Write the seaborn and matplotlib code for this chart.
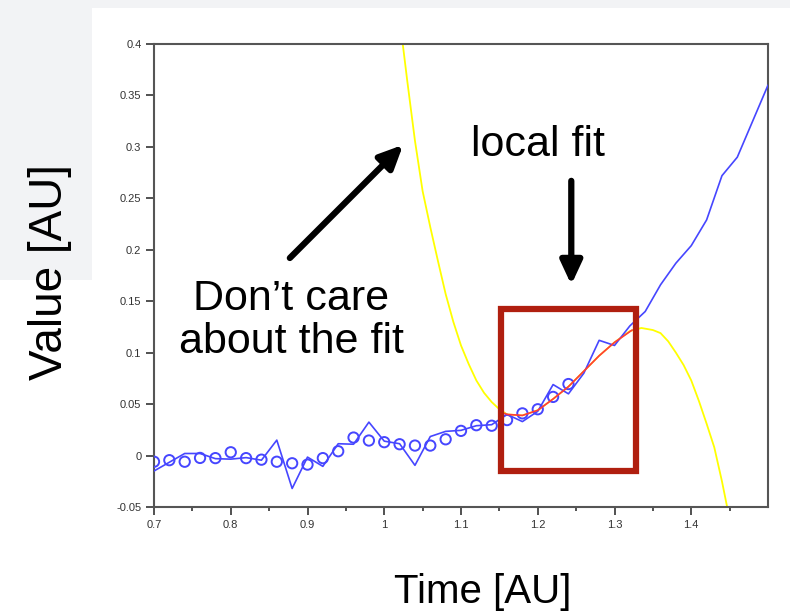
import matplotlib as mpl
mpl.use("Agg")
import matplotlib.pyplot as plt
import matplotlib.patches as mpatches
import seaborn as sns
import numpy as np
import pandas as pd

sns.set_style("white")
plt.rcParams['font.family'] = ['Liberation Sans', 'DejaVu Sans']
plt.rcParams['text.color'] = 'black'

# measured samples (circles)
sample_t = [0.70, 0.72, 0.74, 0.76, 0.78, 0.80, 0.82, 0.84, 0.86, 0.88,
            0.90, 0.92, 0.94, 0.96, 0.98, 1.00, 1.02, 1.04, 1.06, 1.08,
            1.10, 1.12, 1.14, 1.16, 1.18, 1.20, 1.22, 1.24]
sample_v = [-0.006, -0.0045, -0.006, -0.0023, -0.0025, 0.0032, -0.0025, -0.004, -0.006, -0.0075,
            -0.0088, -0.0025, 0.0042, 0.0175, 0.0146, 0.013, 0.011, 0.0097, 0.0097, 0.0158,
            0.024, 0.0295, 0.029, 0.0345, 0.041, 0.045, 0.057, 0.0695]

# noisy signal (blue line)
signal_t = [0.70, 0.72, 0.74, 0.76, 0.78, 0.80, 0.82, 0.84, 0.86, 0.88,
            0.90, 0.92, 0.94, 0.96, 0.98, 1.00, 1.02, 1.04, 1.06, 1.08,
            1.10, 1.12, 1.14, 1.16, 1.18, 1.20, 1.22, 1.24, 1.26, 1.28,
            1.30, 1.32, 1.34, 1.36, 1.38, 1.40, 1.42, 1.44, 1.46, 1.48, 1.50]
signal_v = [-0.015, -0.0065, 0.002, 0.002, -0.003, -0.0035, -0.002, -0.0045, 0.015, -0.032,
            -0.0015, -0.0105, 0.0115, 0.011, 0.0325, 0.014, 0.0115, -0.0095, 0.0185, 0.0235,
            0.0245, 0.029, 0.030, 0.040, 0.033, 0.043, 0.069, 0.060, 0.080, 0.112,
            0.107, 0.126, 0.140, 0.166, 0.187, 0.204, 0.229, 0.272, 0.290, 0.325, 0.360]

# local polynomial fit (red, inside window)
fit_t = [1.157, 1.16, 1.18, 1.20, 1.22, 1.24, 1.26, 1.28, 1.30, 1.323]
fit_v = [0.041, 0.040, 0.039, 0.044, 0.055, 0.067, 0.082, 0.097, 0.110, 0.122]

# same fit outside the window (yellow)
ext_t = [1.02, 1.03, 1.04, 1.05, 1.06, 1.07, 1.08, 1.09, 1.10, 1.11,
         1.12, 1.13, 1.14, 1.15, 1.16, 1.18, 1.20, 1.22, 1.24, 1.26,
         1.28, 1.30, 1.32, 1.335, 1.35, 1.36, 1.37, 1.38, 1.39, 1.40,
         1.41, 1.42, 1.43, 1.44, 1.45]
ext_v = [0.425, 0.364, 0.306, 0.257, 0.222, 0.189, 0.157, 0.130, 0.107, 0.089,
         0.073, 0.061, 0.052, 0.045, 0.040, 0.039, 0.044, 0.055, 0.067, 0.082,
         0.097, 0.110, 0.121, 0.124, 0.122, 0.119, 0.111, 0.100, 0.088, 0.073,
         0.053, 0.031, 0.008, -0.025, -0.062]

xticks = [0.7, 0.8, 0.9, 1.0, 1.1, 1.2, 1.3, 1.4]
xtick_labels = ['0.7', '0.8', '0.9', '1', '1.1', '1.2', '1.3', '1.4']
yticks = [-0.05, 0, 0.05, 0.1, 0.15, 0.2, 0.25, 0.3, 0.35, 0.4]
ytick_labels = ['-0.05', '0', '0.05', '0.1', '0.15', '0.2', '0.25', '0.3', '0.35', '0.4']

W, H = 790, 613
fig = plt.figure(figsize=(W / 100, H / 100), dpi=100)
fig.patch.set_facecolor('white')

# faint slide background on the left/top
fig.patches.append(mpatches.Rectangle((0, 1 - 280 / H), 92 / W, 280 / H, transform=fig.transFigure,
                                      facecolor='#f2f3f5', edgecolor='none', zorder=0))
fig.patches.append(mpatches.Rectangle((0, 1 - 8 / H), 1, 8 / H, transform=fig.transFigure,
                                      facecolor='#f2f3f5', edgecolor='none', zorder=0))

ax = fig.add_axes([154 / W, 1 - 507 / H, (768 - 154) / W, (507 - 44) / H])

blue = '#4646ff'
sns.lineplot(x=ext_t, y=ext_v, ax=ax, color='#ffff00', lw=1.3, sort=False, zorder=2)
sns.lineplot(x=signal_t, y=signal_v, ax=ax, color=blue, lw=1.2, sort=False, zorder=3)
sns.scatterplot(x=sample_t, y=sample_v, ax=ax, marker='o', s=55, facecolor='none',
                edgecolor=blue, linewidth=1.4, zorder=4)
sns.lineplot(x=fit_t, y=fit_v, ax=ax, color='#ff3a3a', lw=1.2, sort=False, zorder=5)

ax.set_xlim(0.7, 1.5)
ax.set_ylim(-0.05, 0.4)
ax.set_xticks(xticks)
ax.set_xticklabels(xtick_labels)
ax.set_xticks(np.arange(0.75, 1.5, 0.1), minor=True)
ax.set_yticks(yticks)
ax.set_yticklabels(ytick_labels)
ax.tick_params(axis='both', which='major', direction='out', length=6, width=1.2,
               color='#333333', labelsize=8, labelcolor='#333333', pad=3)
ax.tick_params(axis='x', which='minor', direction='out', length=3, width=1.2, color='#333333')
ax.tick_params(bottom=True, left=True, top=False, right=False)
ax.tick_params(axis='x', which='minor', bottom=True)
for s in ax.spines.values():
    s.set_color('#555555')
    s.set_linewidth(1.5)
ax.set_xlabel('')
ax.set_ylabel('')

# local fit window
ax.add_patch(mpatches.Rectangle((1.1517, -0.0146), 1.3284 - 1.1517, 0.1424 + 0.0146,
                                fill=False, edgecolor='#b01f0f', linewidth=4.5, zorder=6))

# annotations
ax.annotate('', xy=(1.0246, 0.302), xytext=(0.877, 0.192),
            arrowprops=dict(arrowstyle='-|>,head_length=1.4,head_width=0.65', color='black',
                            lw=4.5, shrinkA=0, shrinkB=0), annotation_clip=False)
ax.annotate('', xy=(1.2437, 0.166), xytext=(1.2437, 0.267),
            arrowprops=dict(arrowstyle='-|>,head_length=1.4,head_width=0.65', color='black',
                            lw=4.5, shrinkA=0, shrinkB=0), annotation_clip=False)
ax.text(1.2007, 0.302, 'local fit', fontsize=31, ha='center', va='center', color='black')
ax.text(0.8786, 0.131, 'Don\u2019t care\nabout the fit', fontsize=31, ha='center', va='center',
        color='black', linespacing=1.1)

fig.text(483 / W, 1 - 592 / H, 'Time [AU]', fontsize=29, ha='center', va='center', color='black')
fig.text(50 / W, 1 - 272 / H, 'Value [AU]', fontsize=33, ha='center', va='center', rotation=90,
         color='black')

fig.savefig('out.png', dpi=100)
